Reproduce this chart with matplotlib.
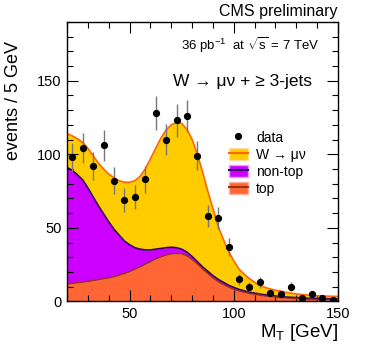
import numpy as np
import matplotlib
matplotlib.use("Agg")
import matplotlib.pyplot as plt
from matplotlib.patches import Patch
from matplotlib.lines import Line2D
from matplotlib.legend_handler import HandlerTuple
from matplotlib.ticker import MultipleLocator

plt.rcParams['font.family'] = ['Liberation Sans', 'DejaVu Sans']
plt.rcParams['mathtext.fontset'] = 'custom'
plt.rcParams['mathtext.rm'] = 'Liberation Sans'
plt.rcParams['mathtext.it'] = 'Liberation Sans:italic'

# data points (bin centres, events / 5 GeV)
mt_data = [22.5, 27.5, 32.5, 37.5, 42.5, 47.5, 52.5, 57.5, 62.5, 67.5, 72.5, 77.5, 82.5,
           87.5, 92.5, 97.5, 102.5, 107.5, 112.5, 117.5, 122.5, 127.5, 132.5, 137.5, 142.5, 147.5]
n_data = [98, 104, 92, 106, 82, 69, 71, 83, 128, 110, 123, 126, 99,
          58, 57, 37, 15, 10, 13, 6, 5, 10, 2, 5, 2, 1]
err_data = [9.9, 10.2, 9.6, 10.3, 9.1, 8.3, 8.4, 9.1, 11.3, 10.5, 11.1, 11.2, 9.9,
            7.6, 7.5, 6.1, 3.9, 3.2, 3.6, 2.4, 2.2, 3.2, 1.4, 2.2, 1.4, 1.0]

# fitted templates (stacked), sampled every 2.5 GeV
mt_fit = [20, 22.5, 25, 27.5, 30, 32.5, 35, 37.5, 40, 42.5, 45, 47.5, 50, 52.5, 55, 57.5,
          60, 62.5, 65, 67.5, 70, 72.5, 75, 77.5, 80, 82.5, 85, 87.5, 90, 92.5, 95, 97.5,
          100, 102.5, 105, 107.5, 110, 112.5, 115, 117.5, 120, 122.5, 125, 127.5, 130,
          132.5, 135, 137.5, 140, 142.5, 145, 147.5, 150]
total_fit = [114, 112.5, 110.5, 108, 104, 99, 94, 90, 86.5, 84, 82, 81, 81, 82, 85, 90,
             97, 104, 111, 116.5, 120, 121.5, 121, 117, 110, 100, 88, 75, 63, 51, 42, 34,
             27.5, 22, 18.5, 15.5, 13, 11, 9.5, 8.5, 7.6, 7, 6.2, 5.6, 5.1,
             4.7, 4.4, 4.1, 3.9, 3.7, 3.6, 3.5, 3.4]
nontop_fit = [91, 89, 86, 82.5, 77, 71, 65, 59.5, 54, 49, 45, 41, 38.5, 36.5, 35.5, 35,
              35, 35.5, 36, 36.5, 36.8, 36.5, 35.5, 33.5, 30.5, 27, 23.5, 20.5, 17.5, 15, 13, 11,
              9.5, 8.2, 7.2, 6.3, 5.6, 5, 4.5, 4.1, 3.7, 3.3, 3, 2.8, 2.6,
              2.4, 2.2, 2.1, 2, 1.9, 1.8, 1.7, 1.6]
top_fit = [12, 12.3, 12.7, 13.1, 13.6, 14.2, 14.8, 15.4, 16, 16.8, 17.8, 19, 20.3, 21.8, 23.5, 25.3,
           27, 28.8, 30.3, 31.5, 32.3, 32.6, 32.4, 31, 28.5, 25.5, 22, 19, 16, 13.5, 11.5, 9.7,
           8.3, 7.1, 6.2, 5.4, 4.8, 4.2, 3.7, 3.3, 2.9, 2.6, 2.3, 2.1, 1.9,
           1.7, 1.5, 1.4, 1.3, 1.2, 1.1, 1.05, 1]

c_w, c_w_line = '#ffcc00', '#ff6600'
c_nt, c_nt_line = '#cc00ff', '#330066'
c_top, c_top_line = '#ff6633', '#993311'

fig = plt.figure(figsize=(3.71, 3.58), dpi=100)
ax = fig.add_axes([0.181, 0.158, 0.730, 0.781])

ax.fill_between(mt_fit, nontop_fit, total_fit, color=c_w, lw=0)
ax.fill_between(mt_fit, top_fit, nontop_fit, color=c_nt, lw=0)
ax.fill_between(mt_fit, 0, top_fit, color=c_top, lw=0)
ax.plot(mt_fit, total_fit, color=c_w_line, lw=1.2)
ax.plot(mt_fit, nontop_fit, color=c_nt_line, lw=1.2)
ax.plot(mt_fit, top_fit, color=c_top_line, lw=1.0)

ax.errorbar(mt_data, n_data, yerr=err_data, fmt='o', color='black', ms=4.2,
            ecolor='#777777', elinewidth=1.0, capsize=0, zorder=5)

ax.set_xlim(20, 150)
ax.set_ylim(0, 190)
ax.xaxis.set_major_locator(MultipleLocator(50))
ax.xaxis.set_minor_locator(MultipleLocator(10))
ax.yaxis.set_major_locator(MultipleLocator(50))
ax.yaxis.set_minor_locator(MultipleLocator(10))
ax.tick_params(which='both', direction='in', top=True, right=True, labelsize=10.5, width=0.8)
ax.tick_params(which='major', length=8, pad=4)
ax.tick_params(which='minor', length=4)
for s in ax.spines.values():
    s.set_linewidth(1.0)

ax.set_ylabel('events / 5 GeV', fontsize=13)
ax.yaxis.set_label_coords(-0.165, 0.72)
ax.set_xlabel(r'M$_\mathrm{T}$ [GeV]', fontsize=13.5, loc='right', labelpad=1)

ax.text(1.0, 1.01, 'CMS preliminary', transform=ax.transAxes, ha='right', va='bottom', fontsize=11.5)
ax.text(0.93, 0.915, r'36 pb$^{-1}$  at $\sqrt{\mathrm{s}}$ = 7 TeV', transform=ax.transAxes,
        ha='right', va='center', fontsize=9.5)
ax.text(0.905, 0.785, 'W → μν + ≥ 3-jets', transform=ax.transAxes,
        ha='right', va='center', fontsize=12.5)

h_data = Line2D([], [], marker='o', color='black', ls='none', ms=4.2)
h_w = (Patch(facecolor=c_w, edgecolor='#ffe0a0'), Line2D([], [], color=c_w_line, lw=1.5))
h_nt = (Patch(facecolor=c_nt, edgecolor='#e8a0ff'), Line2D([], [], color=c_nt_line, lw=1.5))
h_top = (Patch(facecolor=c_top, edgecolor='#ffb0a0'), Line2D([], [], color=c_top_line, lw=1.5))
ax.legend([h_data, h_w, h_nt, h_top], ['data', 'W → μν', 'non-top', 'top'],
          handler_map={tuple: HandlerTuple(ndivide=1)}, loc='upper left',
          bbox_to_anchor=(0.56, 0.645), frameon=False, fontsize=10, handlelength=1.4,
          handleheight=1.0, labelspacing=0.22, handletextpad=0.6, borderpad=0.2)

fig.savefig('out.png', dpi=100)
